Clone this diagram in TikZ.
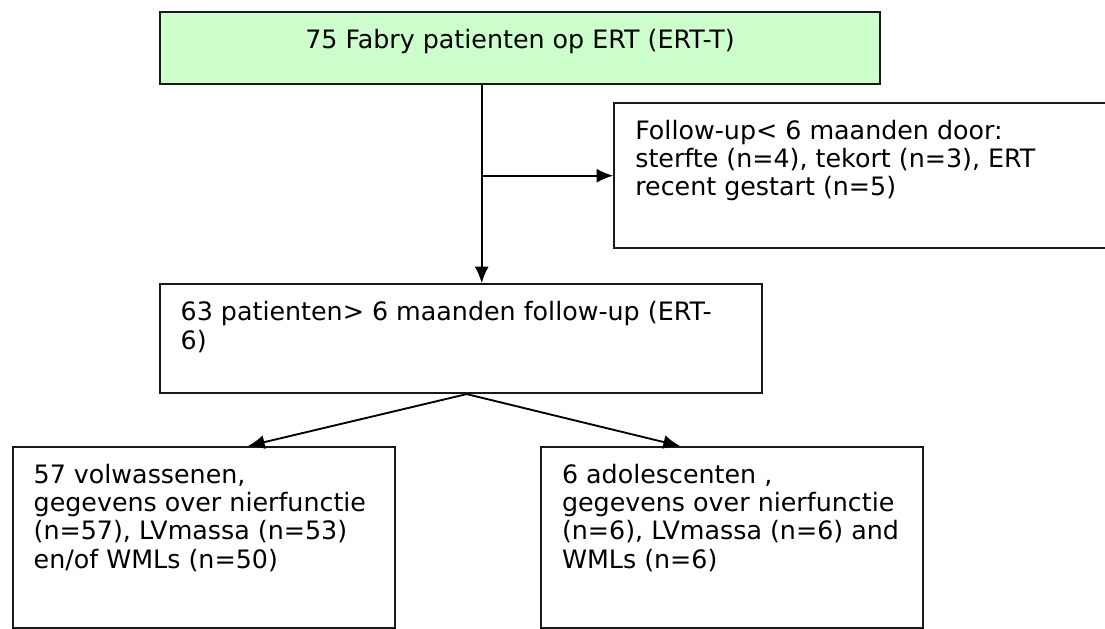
\documentclass[tikz,border=0pt]{standalone}
\usepackage{fontspec}
\setmainfont{DejaVu Sans}
\usepackage{tikz}
\usetikzlibrary{arrows.meta}

\definecolor{ertgreen}{HTML}{CCFFCC}

% text block of a box: width, height, lines
\newcommand{\boxtxt}[3]{\parbox[t][#2][t]{#1}{\raggedright\strut #3}}

\tikzset{
  box/.style={draw=black!90, line width=1.5pt, rectangle, anchor=north west,
    inner xsep=15.75pt, inner ysep=12.5pt, font=\fontsize{19pt}{21.2pt}\selectfont},
  link/.style={-{Latex[length=12.5pt, width=10.5pt]}, line width=1.4pt},
}

\begin{document}
\begin{tikzpicture}[x=0.75pt, y=-0.75pt]

\useasboundingbox (0,0) rectangle (1105,628);

% boxes

\node[box, fill=ertgreen] (ertt) at (158.7, 11) {\parbox[t][28.9pt][t]{508.9pt}{\centering\strut 75 Fabry patienten op ERT (ERT-T)}};
\node[box] (drop) at (613.3, 101.7) {\boxtxt{339.7pt}{83.6pt}{Follow-up< 6 maanden door:\\ sterfte (n=4), tekort (n=3), ERT\\ recent gestart (n=5)}};
\node[box] (mid) at (158.7, 283.3) {\boxtxt{420pt}{56.6pt}{63 patienten> 6 maanden follow-up (ERT-\\ 6)}};
\node[box] (adult) at (11.7, 446) {\boxtxt{255.2pt}{110.4pt}{57 volwassenen,\\ gegevens over nierfunctie\\ (n=57), LVmassa (n=53)\\ en/of WMLs (n=50)}};
\node[box] (adol) at (540, 446) {\boxtxt{255.2pt}{110.4pt}{6 adolescenten ,\\ gegevens over nierfunctie\\ (n=6), LVmassa (n=6) and\\ WMLs (n=6)}};

% connector points

\coordinate (split) at (481.7, 175.7);
\coordinate (fork) at (466.7, 392.3);
\coordinate (tipa) at (248, 446);
\coordinate (tipb) at (680, 446);

% connectors
\draw [link] (ertt.south -| split) -- (mid.north -| split);
\draw [link] (split) -- (split -| drop.west);
\draw [link] (mid.south -| fork) -- (adult.north -| tipa);
\draw [link] (mid.south -| fork) -- (adol.north -| tipb);

\end{tikzpicture}
\end{document}
